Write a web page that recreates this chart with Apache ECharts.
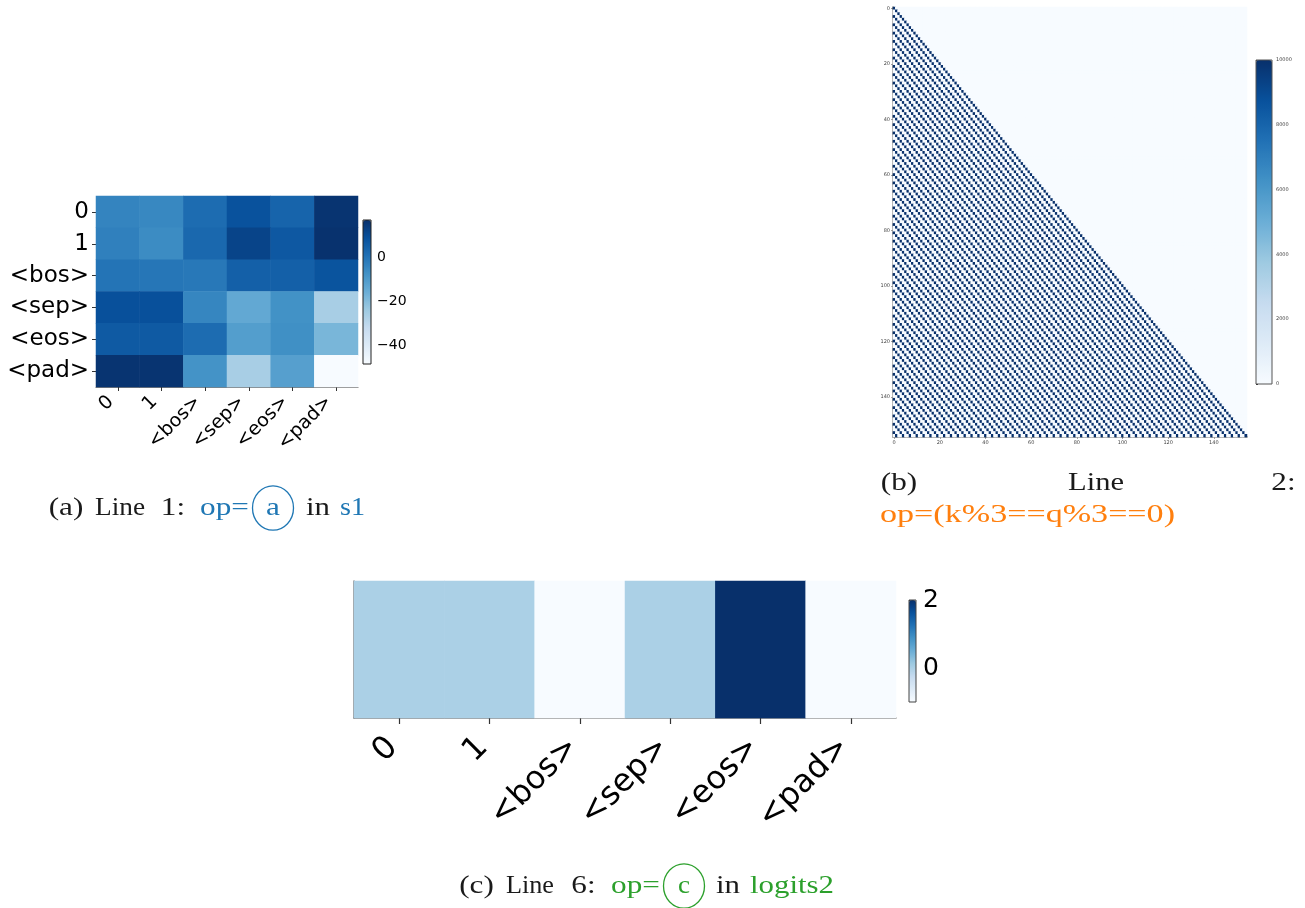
<!DOCTYPE html>
<html>
<head>
<meta charset="utf-8">
<script src="https://cdn.jsdelivr.net/npm/echarts@6/dist/echarts.min.js"></script>
<style>html,body{margin:0;padding:0;background:#fff;}#c{width:1305px;height:908px;}</style>
</head>
<body>
<div id="c"></div>
<script>
// ---------- data ----------
const aLabels = ['0', '1', '<bos>', '<sep>', '<eos>', '<pad>'];
const aValues = [
  [-4, -5, 2, 8.5, 4, 16],
  [-3, -6, 3, 12, 7, 16.5],
  [0, -0.5, -1, 5, 5, 8],
  [9, 9, -4.5, -14, -7.5, -26],
  [6.5, 6.5, 2, -11, -7, -18],
  [16, 16, -8, -26, -11.5, -48.5]
];
const aRange = [-48.5, 17];
const aTicks = [-40, -20, 0];

// panel (b): attention mask for op=(k%3==q%3), lower triangle
const bSize = 155;
const bPeriod = 3;
const bOn = 10000;
const bOff = 0;
const bRange = [0, 10000];
const bTickStep = 20;

const cLabels = ['0', '1', '<bos>', '<sep>', '<eos>', '<pad>'];
const cValues = [0, 0, -1, 0, 2, -1];
const cRange = [-1, 2];
const cTicks = [0, 2];

// caption pieces: [text, colour key, left, right, centre y, max stretch]
const captionParts = [
  ['(a)', 'k', 47, 85, 508, 1.2], ['Line', 'k', 95, 145, 508, 1.2], ['1:', 'k', 160, 186, 508, 1.2],
  ['op=', 'blue', 198, 251, 508, 1.2], ['a', 'blue', 266, 280, 508, 1.2], ['in', 'k', 306, 330, 508, 1.2], ['s1', 'blue', 340, 365, 508, 1.2],
  ['(b)', 'k', 880, 918, 483, 1.2], ['Line', 'k', 1068, 1124, 483, 1.2], ['2:', 'k', 1271, 1296, 483, 1.2],
  ['op=(k%3==q%3==0)', 'orange', 880, 1175, 515, 1.35],
  ['(c)', 'k', 459, 494, 886, 1.2], ['Line', 'k', 506, 554, 886, 1.2], ['6:', 'k', 571, 596, 886, 1.2],
  ['op=', 'green', 609, 662, 886, 1.2], ['c', 'green', 678, 690, 886, 1.2], ['in', 'k', 716, 740, 886, 1.2], ['logits2', 'green', 750, 834, 886, 1.2]
];
const captionCircles = [[273, 508, 'blue'], [684, 886, 'green']];

const blues = ['#f7fbff','#deebf7','#c6dbef','#9ecae1','#6baed6','#4292c6','#2171b5','#08519c','#08306b'];
const tone = {k: '#1a1a1a', blue: '#1f77b4', orange: '#ff7f0e', green: '#2ca02c'};

// ---------- build series data ----------
const aData = [];
aValues.forEach((row, r) => row.forEach((v, c) => aData.push([c, r, v])));
const bCats = [];
for (let i = 0; i < bSize; i++) bCats.push(String(i));
const bData = [];
for (let q = 0; q < bSize; q++) {
  for (let k = 0; k < bSize; k++) {
    const on = k <= q && (q - k) % bPeriod === 0;
    bData.push([k, q, on ? bOn : bOff]);
  }
}
const cData = cValues.map((v, i) => [i, 0, v]);

const sans = 'DejaVu Sans';
const grey = '#7f7f7f';
const minus = v => String(v).replace('-', '\u2212');

const capFont = '26px "Liberation Serif"';
const mctx = document.createElement('canvas').getContext('2d');
mctx.font = capFont;
const captionGraphics = captionParts.map(([t, col, x0, x1, y, maxS]) => {
  const w = mctx.measureText(t).width;
  const s = Math.max(0.95, Math.min(maxS, (x1 - x0) / w));
  const cx = (x0 + x1) / 2;
  return {type: 'text', x: cx, y: y, scaleX: s, z: 100,
    style: {text: t, font: capFont, fill: tone[col], textAlign: 'center', textVerticalAlign: 'middle'}};
});
const circleGraphics = captionCircles.map(([cx, cy, col]) => ({
  type: 'circle', x: cx, y: cy, scaleY: 1.08, z: 100,
  shape: {cx: 0, cy: 0, r: 20.5}, style: {fill: 'none', stroke: tone[col], lineWidth: 1.3}
}));

const grids = [
  {left: 96, top: 196, width: 262, height: 191},
  {left: 893, top: 7, width: 354, height: 430, show: true, backgroundColor: '#f7fbff', borderWidth: 0},
  {left: 354, top: 581, width: 542, height: 137},
  {left: 363, top: 220, width: 8, height: 144},
  {left: 1256, top: 60, width: 16, height: 324},
  {left: 909, top: 600, width: 7, height: 102}
];

const cbY = (gi, range, labelSize, tickLen, custom, interval, color) => ({
  gridIndex: gi, type: 'value', position: 'right', min: range[0], max: range[1],
  interval: interval,
  splitLine: {show: false}, axisLine: {show: false},
  axisTick: {show: true, length: tickLen, lineStyle: {color: '#222', width: 1}, customValues: custom},
  axisLabel: {show: true, fontFamily: sans, fontSize: labelSize, color: color, margin: tickLen + 2,
    formatter: minus, customValues: custom}
});

const option = {
  backgroundColor: '#fff',
  animation: false,
  grid: grids,
  xAxis: [
    {gridIndex: 0, type: 'category', data: aLabels,
      axisLine: {show: true, lineStyle: {color: grey, width: 1.2}},
      axisTick: {show: true, alignWithLabel: true, length: 4, lineStyle: {color: '#333'}},
      axisLabel: {rotate: 45, fontFamily: sans, fontSize: 19, color: '#000', margin: 5, padding: [0, 10, 0, 0]}},
    {gridIndex: 1, type: 'category', data: bCats,
      axisLine: {show: true, lineStyle: {color: grey, width: 1.5}},
      axisTick: {show: true, alignWithLabel: true, length: 2, interval: i => i % bTickStep === 0, lineStyle: {color: '#444', width: 0.5}},
      axisLabel: {fontFamily: sans, fontSize: 5, color: '#444', margin: 3, interval: i => i % bTickStep === 0}},
    {gridIndex: 2, type: 'category', data: cLabels,
      axisLine: {show: true, lineStyle: {color: grey, width: 1.5}},
      axisTick: {show: true, alignWithLabel: true, length: 6, lineStyle: {color: '#333', width: 1.2}},
      axisLabel: {rotate: 45, fontFamily: sans, fontSize: 32, color: '#000', margin: 18, padding: [0, 9, 0, 0]}},
    {gridIndex: 3, type: 'value', show: false},
    {gridIndex: 4, type: 'value', show: false},
    {gridIndex: 5, type: 'value', show: false}
  ],
  yAxis: [
    {gridIndex: 0, type: 'category', data: aLabels, inverse: true,
      axisLine: {show: false},
      axisTick: {show: true, alignWithLabel: true, length: 4, lineStyle: {color: '#333'}},
      axisLabel: {fontFamily: sans, fontSize: 23, color: '#000', margin: 7}},
    {gridIndex: 1, type: 'category', data: bCats, inverse: true,
      axisLine: {show: true, lineStyle: {color: grey, width: 1.5}},
      axisTick: {show: true, alignWithLabel: true, length: 2, interval: i => i % bTickStep === 0, lineStyle: {color: '#444', width: 0.5}},
      axisLabel: {fontFamily: sans, fontSize: 5, color: '#444', margin: 3, interval: i => i % bTickStep === 0}},
    {gridIndex: 2, type: 'category', data: [''],
      axisLine: {show: true, lineStyle: {color: grey, width: 1.5}},
      axisTick: {show: false}, axisLabel: {show: false}},
    cbY(3, aRange, 14, 4, aTicks, undefined, '#000'),
    cbY(4, bRange, 5, 2, undefined, 2000, '#444'),
    cbY(5, cRange, 25, 5, cTicks, undefined, '#000')
  ],
  visualMap: [
    {type: 'continuous', seriesIndex: 0, min: aRange[0], max: aRange[1], inRange: {color: blues},
      orient: 'vertical', left: 363, top: 220, itemWidth: 8, itemHeight: 144, padding: 0,
      calculable: false, hoverLink: false, text: null},
    {type: 'continuous', seriesIndex: 1, min: bRange[0], max: bRange[1], inRange: {color: blues},
      orient: 'vertical', left: 1256, top: 60, itemWidth: 16, itemHeight: 324, padding: 0,
      calculable: false, hoverLink: false, text: null},
    {type: 'continuous', seriesIndex: 2, min: cRange[0], max: cRange[1], inRange: {color: blues},
      orient: 'vertical', left: 909, top: 600, itemWidth: 7, itemHeight: 102, padding: 0,
      calculable: false, hoverLink: false, text: null}
  ],
  series: [
    {type: 'heatmap', xAxisIndex: 0, yAxisIndex: 0, data: aData, progressive: 0, emphasis: {disabled: true}},
    {type: 'heatmap', xAxisIndex: 1, yAxisIndex: 1, data: bData, progressive: 0, emphasis: {disabled: true}},
    {type: 'heatmap', xAxisIndex: 2, yAxisIndex: 2, data: cData, progressive: 0, emphasis: {disabled: true}}
  ],
  graphic: [
    {type: 'rect', z: 100, shape: {x: 363, y: 220, width: 8, height: 144}, style: {fill: 'none', stroke: '#222', lineWidth: 1}},
    {type: 'rect', z: 100, shape: {x: 1256, y: 60, width: 16, height: 324}, style: {fill: 'none', stroke: '#555', lineWidth: 1}},
    {type: 'rect', z: 100, shape: {x: 909, y: 600, width: 7, height: 102}, style: {fill: 'none', stroke: '#444', lineWidth: 1}}
  ].concat(captionGraphics, circleGraphics)
};

const chart = echarts.init(document.getElementById('c'), null, {renderer: 'canvas'});
chart.setOption(option);
</script>
</body>
</html>
